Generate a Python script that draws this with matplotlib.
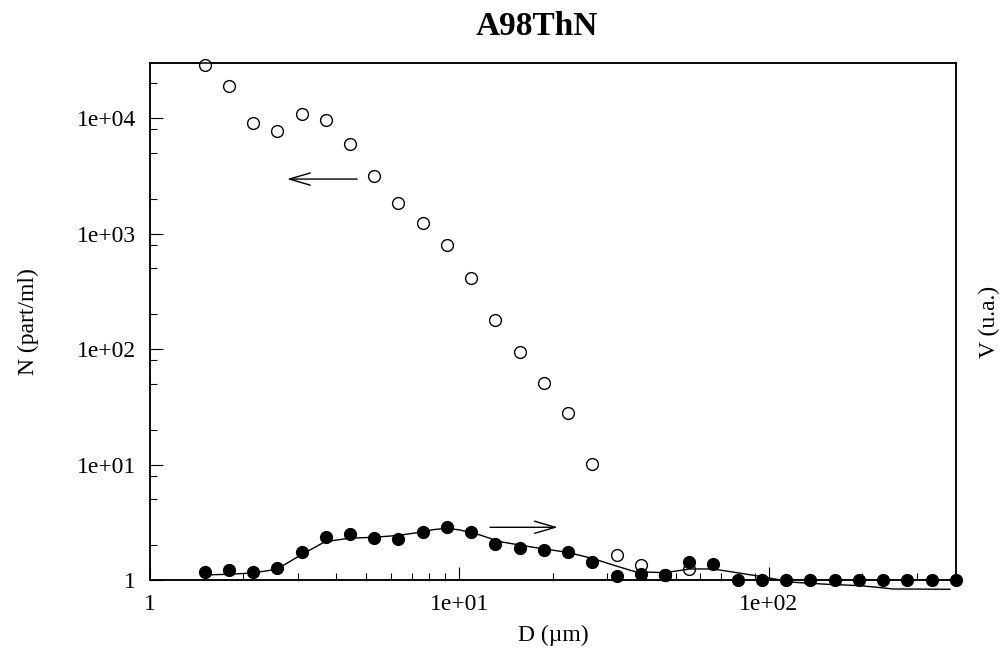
import numpy as np
import matplotlib
matplotlib.use("Agg")
import matplotlib.pyplot as plt
from matplotlib.ticker import LogLocator, NullFormatter

plt.rcParams['font.family'] = ['Liberation Serif', 'DejaVu Serif']

### data ###
# diameters (um), one per measured class
D = [1.5, 1.8, 2.15, 2.58, 3.09, 3.70, 4.43, 5.30, 6.35, 7.60,
     9.10, 10.9, 13.06, 15.64, 18.73, 22.43, 26.86, 32.17, 38.53, 46.14,
     55.26, 66.18, 79.26, 94.92, 113.7, 136.1, 163.0, 195.3, 233.8, 280.0,
     335.4, 401.6]
# number concentration (part/ml), open circles, left axis
N = [29000, 19100, 9070, 7670, 10860, 9680, 5970, 3170, 1823, 1233,
     789, 411, 180, 94, 51.3, 27.8, 10.2, 1.64, 1.34, 1.10,
     1.24]
# volume (u.a.), filled circles, right axis
V = [0.161, 0.188, 0.149, 0.226, 0.536, 0.838, 0.884, 0.818, 0.799, 0.934,
     1.019, 0.923, 0.691, 0.613, 0.574, 0.542, 0.342, 0.077, 0.116, 0.097,
     0.348, 0.309, 0, 0, 0, 0, 0, 0, 0, 0,
     0, 0]
# smoothed volume curve
curve_D = [1.494, 1.787, 2.147, 2.567, 3.053, 3.677, 4.405, 5.267, 6.328, 7.566,
           8.211, 9.092, 10.04, 11.65, 13.52, 17.28, 22.25, 26.80, 31.33, 36.90,
           46.13, 55.55, 65.94, 78.82, 94.93, 119.5, 153.9, 196.8, 223.3, 251.6,
           384.4]
curve_V = [0.097, 0.110, 0.135, 0.207, 0.474, 0.741, 0.807, 0.826, 0.861, 0.928,
           0.973, 1.000, 0.967, 0.870, 0.741, 0.633, 0.536, 0.420, 0.290, 0.161,
           0.141, 0.213, 0.213, 0.141, 0.064, -0.044, -0.083, -0.110, -0.141, -0.174,
           -0.180]
#################################

fig = plt.figure(figsize=(10.05, 6.51), dpi=100)
ax = fig.add_axes([0.1493, 0.1091, 0.8017, 0.7941])
ax2 = ax.twinx()

ax.set_xscale("log")
ax.set_yscale("log")
ax.set_xlim(1, 401.6)
ax.set_ylim(1, 3.0e4)
ax2.set_ylim(0, 10)

ax.plot(D[:len(N)], N, ls="none", marker="o", ms=8.5, mfc="white", mec="black",
        mew=1.0, clip_on=False, zorder=3)
ax2.plot(curve_D, curve_V, color="black", lw=1.0, clip_on=False, zorder=3)
ax2.plot(D, V, ls="none", marker="o", ms=8.5, mfc="black", mec="black",
         clip_on=False, zorder=4)

# arrows pointing to the relevant axis
ax.annotate("", xy=(2.77, 2966), xytext=(4.67, 2966),
            arrowprops=dict(arrowstyle="->,head_length=0.75,head_width=0.22",
                            lw=1.0, color="black", shrinkA=0, shrinkB=0,
                            mutation_scale=20))
ax.annotate("", xy=(20.77, 2.86), xytext=(12.55, 2.86),
            arrowprops=dict(arrowstyle="->,head_length=0.75,head_width=0.22",
                            lw=1.0, color="black", shrinkA=0, shrinkB=0,
                            mutation_scale=20))

ax.set_yticks([1, 10, 100, 1000, 10000], ["1", "1e+01", "1e+02", "1e+03", "1e+04"])
ax.set_xticks([1, 10, 100], ["1", "1e+01", "1e+02"])
ax.yaxis.set_minor_locator(LogLocator(base=10, subs=(2, 5, 8)))
ax.xaxis.set_minor_locator(LogLocator(base=10, subs=(2, 3, 4, 5, 6, 7, 8, 9)))
ax.yaxis.set_minor_formatter(NullFormatter())
ax.xaxis.set_minor_formatter(NullFormatter())
ax.tick_params(which="major", direction="in", length=9.4, width=0.8,
               labelsize=17, pad=10, top=False, right=False)
ax.tick_params(which="minor", direction="in", length=5, width=0.8,
               top=False, right=False)
ax2.tick_params(right=False, labelright=False)

for a in (ax, ax2):
    for s in a.spines.values():
        s.set_linewidth(1.1)

ax.set_xlabel("D (µm)", fontsize=17, labelpad=7)
ax.set_ylabel("N (part/ml)", fontsize=17, labelpad=27)
fig.text(0.985, 0.506, "V (u.a.)", fontsize=17, rotation=90, ha="center", va="center")
fig.text(0.534, 0.960, "A98ThN", fontsize=24, fontweight="bold", ha="center", va="center")

fig.savefig("out.png", dpi=100)
